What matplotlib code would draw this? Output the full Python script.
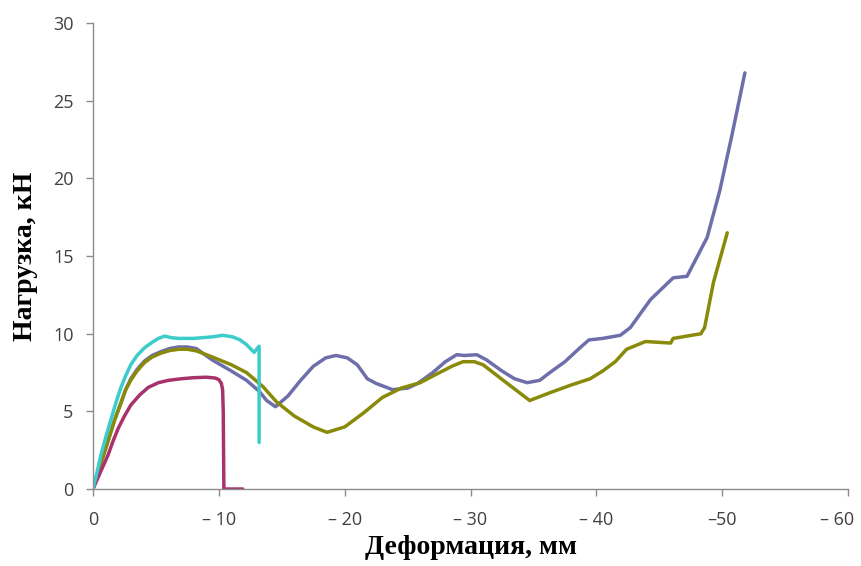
import numpy as np
from matplotlib import pyplot as plt
from matplotlib import transforms

# Data (deformation in mm, load in kN)
cyan_x = [0, 0.3, 0.6, 1.0, 1.4, 1.8, 2.2, 2.6, 3.0, 3.5, 4.1, 4.7, 5.2, 5.7, 6.2, 6.8,
          8.0, 9.5, 10.3, 11.1, 11.7, 12.2, 12.5, 12.8, 13.2, 13.2]
cyan_y = [0, 1.0, 2.1, 3.3, 4.4, 5.5, 6.5, 7.3, 8.0, 8.6, 9.1, 9.45, 9.7, 9.85, 9.75, 9.7,
          9.7, 9.8, 9.9, 9.8, 9.6, 9.3, 9.05, 8.8, 9.2, 3.0]

magenta_x = [0, 0.6, 1.2, 1.6, 2.0, 2.5, 3.0, 3.7, 4.4, 5.2, 6.0, 7.0, 8.0, 9.0, 9.7,
             10.0, 10.2, 10.3, 10.35, 10.4, 11.9]
magenta_y = [0, 1.1, 2.2, 3.1, 3.9, 4.7, 5.4, 6.05, 6.55, 6.85, 7.0, 7.1, 7.17, 7.2, 7.15,
             7.05, 6.8, 6.4, 5.0, 0, 0]

olive_x = [0, 0.6, 1.2, 1.7, 2.2, 2.6, 3.0, 3.5, 4.1, 4.7, 5.4, 6.1, 6.8, 7.5, 8.2, 9.5,
           11.0, 12.2, 13.5, 14.6, 16.0, 17.5, 18.6, 20.0, 21.5, 23.0, 24.5, 26.0, 27.3,
           28.5, 29.4, 30.3, 31.0, 32.6, 34.7, 36.3, 38.0, 39.5, 40.5, 41.5, 42.4, 43.9,
           45.9, 46.1, 48.3, 48.6, 49.3, 50.4]
olive_y = [0, 1.6, 3.1, 4.4, 5.5, 6.4, 7.0, 7.6, 8.15, 8.5, 8.75, 8.92, 9.0, 9.0, 8.9, 8.5,
           8.0, 7.5, 6.6, 5.6, 4.7, 4.0, 3.65, 4.0, 4.9, 5.9, 6.5, 6.85, 7.4,
           7.9, 8.2, 8.2, 8.0, 7.0, 5.7, 6.2, 6.7, 7.1, 7.6, 8.2, 9.0, 9.5,
           9.4, 9.7, 10.0, 10.4, 13.3, 16.5]

purple_x = [0, 0.6, 1.2, 1.7, 2.2, 2.6, 3.0, 3.5, 4.1, 4.7, 5.4, 6.1, 6.8, 7.5, 8.2, 9.5,
            11.0, 12.2, 13.2, 13.8, 14.5, 15.5, 16.5, 17.5, 18.5, 19.3, 20.2, 21.0, 21.8,
            22.5, 23.8, 25.0, 25.8, 27.0, 28.0, 28.9, 29.5, 30.5, 31.3, 32.5, 33.5, 34.5,
            35.5, 36.3, 37.5, 38.7, 39.4, 40.5, 41.9, 42.7, 44.3, 46.1, 47.2, 48.8, 49.8,
            50.8, 51.8]
purple_y = [0, 1.6, 3.1, 4.4, 5.5, 6.4, 7.1, 7.7, 8.25, 8.6, 8.85, 9.05, 9.15, 9.15, 9.05, 8.3,
            7.6, 7.0, 6.3, 5.7, 5.3, 6.0, 7.0, 7.9, 8.45, 8.6, 8.45, 8.0, 7.1,
            6.8, 6.4, 6.5, 6.8, 7.5, 8.2, 8.65, 8.6, 8.65, 8.3, 7.6, 7.1, 6.85,
            7.0, 7.5, 8.2, 9.1, 9.6, 9.7, 9.9, 10.4, 12.2, 13.6, 13.7, 16.2, 19.2,
            22.9, 26.8]

xticks = [0, 10, 20, 30, 40, 50, 60]
xtick_labels = ['0', '\u2013 10', '\u2013 20', '\u2013 30', '\u2013 40', '\u201350', '\u2013 60']
yticks = [0, 5, 10, 15, 20, 25, 30]

fig = plt.figure(figsize=(8.61, 5.66), dpi=100)
ax = fig.add_axes([0.108, 0.136, 0.877, 0.823])

lw = 2.5
ax.plot(purple_x, purple_y, color='#6e6eaa', linewidth=lw, solid_capstyle='round')
ax.plot(olive_x, olive_y, color='#8a8a0a', linewidth=lw, solid_capstyle='round')
ax.plot(magenta_x, magenta_y, color='#a8336c', linewidth=lw, solid_capstyle='round')
ax.plot(cyan_x, cyan_y, color='#3ccccc', linewidth=lw, solid_capstyle='round')

ax.set_xlim(0, 60)
ax.set_ylim(0, 30)
ax.set_xticks(xticks)
ax.set_xticklabels(xtick_labels)
ax.set_yticks(yticks)

for side in ['top', 'right']:
    ax.spines[side].set_visible(False)
for side in ['left', 'bottom']:
    ax.spines[side].set_color('#8c8c8c')
    ax.spines[side].set_linewidth(1.0)
ax.tick_params(direction='out', length=5, width=1.0, color='#8c8c8c',
               labelsize=13, labelcolor='#404040', pad=9)
ax.tick_params(axis='x', pad=11)
for lab in ax.get_xticklabels() + ax.get_yticklabels():
    lab.set_family('Open Sans')

# keep the last x label inside the figure
last = ax.get_xticklabels()[-1]
last.set_transform(last.get_transform() +
                   transforms.ScaledTranslation(-11 / 100, 0, fig.dpi_scale_trans))

ax.set_xlabel('Деформация, мм', fontsize=20, fontweight='bold',
              family='Liberation Serif', labelpad=4)
ax.set_ylabel('Нагрузка, кН', fontsize=20, fontweight='bold',
              family='Liberation Serif', labelpad=11)

plt.savefig('out.png', dpi=100)
